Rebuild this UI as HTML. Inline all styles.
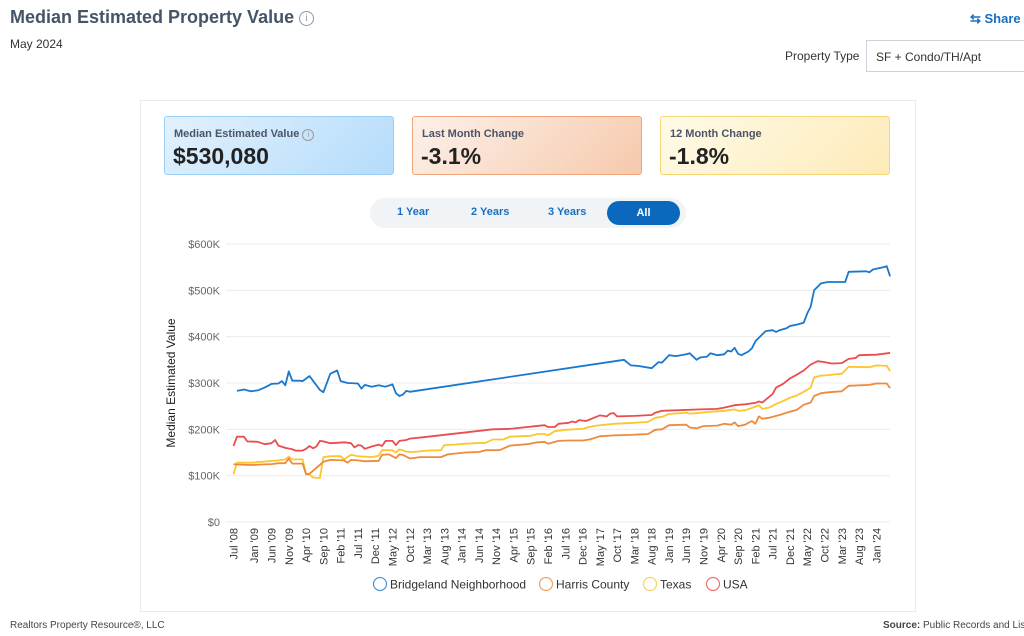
<!DOCTYPE html>
<html><head><meta charset="utf-8"><style>
body{margin:0;width:1024px;height:636px;background:#fff;font-family:"Liberation Sans",sans-serif;position:relative;overflow:hidden;color:#333}
.abs{position:absolute}
.card{position:absolute;top:116px;width:230px;height:59px;border-radius:3px;box-sizing:border-box}
.card .l{position:absolute;left:9px;top:11px;font-size:11px;font-weight:bold;color:#4a5568}
.card .v{position:absolute;left:8px;top:26px;font-size:23px;font-weight:bold;color:#222}
.tog{position:absolute;top:206px;font-size:11px;color:#1a6fc0;font-weight:bold}
</style></head><body>
<div class="abs" style="left:10px;top:7px;font-size:18px;font-weight:bold;color:#455468">Median Estimated Property Value <span style="display:inline-block;width:13px;height:13px;border:1px solid #8a97a8;border-radius:50%;font-size:10px;text-align:center;line-height:13px;color:#8a97a8;font-weight:normal;vertical-align:2px">i</span></div>
<div class="abs" style="left:10px;top:37px;font-size:12px;color:#333">May 2024</div>
<div class="abs" style="left:970px;top:11px;font-size:13px;color:#1a6fc0;font-weight:bold">⇆ Share</div>
<div class="abs" style="left:785px;top:49px;font-size:12px;color:#333">Property Type</div>
<div class="abs" style="left:866px;top:40px;width:170px;height:32px;border:1px solid #ccd3da;box-sizing:border-box;font-size:12px;padding:9px 0 0 9px;color:#333">SF + Condo/TH/Apt</div>
<div class="abs" style="left:140px;top:100px;width:776px;height:512px;border:1px solid #e6ecf1;box-sizing:border-box"></div>
<div class="card" style="left:164px;border:1px solid #9ccff5;background:linear-gradient(135deg,#e3f1fd,#b4dcfb)"><div class="l">Median Estimated Value <span style="display:inline-block;width:10px;height:10px;border:1px solid #999;border-radius:50%;font-size:8px;text-align:center;line-height:10px;color:#999;font-weight:normal">i</span></div><div class="v">$530,080</div></div>
<div class="card" style="left:412px;border:1px solid #f0a57a;background:linear-gradient(135deg,#fdf1ea,#f6c9ac)"><div class="l">Last Month Change</div><div class="v">-3.1%</div></div>
<div class="card" style="left:660px;border:1px solid #f7d774;background:linear-gradient(135deg,#fffbe9,#fdeab8)"><div class="l">12 Month Change</div><div class="v">-1.8%</div></div>
<div class="abs" style="left:370px;top:198px;width:316px;height:30px;border-radius:15px;background:#f1f4f7"></div>
<div class="tog" style="left:397px">1 Year</div>
<div class="tog" style="left:471px">2 Years</div>
<div class="tog" style="left:548px">3 Years</div>
<div class="abs" style="left:607px;top:201px;width:73px;height:24px;border-radius:12px;background:#0b68bd;color:#fff;font-size:11px;font-weight:bold;text-align:center;line-height:24px">All</div>
<svg id="chart" class="abs" style="left:0;top:0" width="1024" height="636"></svg>
<div class="abs" style="left:10px;top:620px;font-size:10px;color:#444">Realtors Property Resource®, LLC</div>
<div class="abs" style="left:883px;top:620px;font-size:10px;color:#444;white-space:nowrap"><b>Source:</b> Public Records and Listings</div>
<script>
const tickLabels=["Jul '08","Jan '09","Jun '09","Nov '09","Apr '10","Sep '10","Feb '11","Jul '11","Dec '11","May '12","Oct '12","Mar '13","Aug '13","Jan '14","Jun '14","Nov '14","Apr '15","Sep '15","Feb '16","Jul '16","Dec '16","May '17","Oct '17","Mar '18","Aug '18","Jan '19","Jun '19","Nov '19","Apr '20","Sep '20","Feb '21","Jul '21","Dec '21","May '22","Oct '22","Mar '23","Aug '23","Jan '24"];
const tickMonths=[0,6,11,16,21,26,31,36,41,46,51,56,61,66,71,76,81,86,91,96,101,106,111,116,121,126,131,136,141,146,151,156,161,166,171,176,181,186];
const yTicks=[0,100,200,300,400,500,600];
const seriesNames=["Bridgeland Neighborhood","Harris County","Texas","USA"];
const seriesColors=["#1a78cc","#ee8a3c","#fcc62d","#ea4d4d"];
const blueMonths=[1,3,5,7,9,11,13,14,15,16,17,19,20,22,25,26,28,30,31,33,36,37,38,40,42,44,46,47,48,49,50,51,113,115,117,121,123,124,126,128,131,132,134,135,137,138,140,142,143,144,145,146,147,149,150,151,153,154,156,157,158,160,161,163,165,166,167,168,170,172,177,178,183,184,185,188,189,190];
const blueValues=[283,286,282,284,290,298,299,304,295,325,305,305,304,315,285,280,320,327,304,300,299,288,296,292,295,292,297,278,272,275,283,281,350,338,337,332,345,344,360,358,362,364,350,355,357,364,360,362,370,368,376,363,360,368,375,390,405,412,414,410,414,418,423,426,430,450,465,500,515,518,518,540,541,539,545,550,552,530];
const orangeMonths=[0,1,5,8,11,13,15,16,17,20,21,22,26,28,32,33,34,36,38,42,43,45,47,48,49,51,54,60,62,67,71,73,77,80,85,88,90,91,94,97,101,103,106,110,115,120,122,124,126,131,132,134,136,140,142,144,145,146,148,150,151,152,153,155,158,161,163,165,167,168,170,172,176,178,184,186,189,190];
const orangeValues=[125,124,123,124,125,127,127,137,126,126,103,104,130,134,133,128,134,133,131,132,145,146,138,146,145,137,140,140,146,150,151,155,155,165,168,172,173,169,175,176,176,178,185,187,188,190,199,200,209,210,204,202,207,208,212,210,215,207,210,218,212,228,223,225,231,238,242,253,258,272,278,280,282,294,296,299,299,289];
const yellowMonths=[0,1,5,10,13,15,16,17,20,21,22,23,25,26,28,31,32,34,36,38,40,42,43,46,47,48,50,52,56,60,61,64,67,73,75,78,80,86,88,90,91,93,96,101,103,105,110,116,120,122,124,126,131,132,134,138,142,145,146,148,150,152,153,155,157,159,161,163,165,167,168,170,172,176,178,184,186,189,190];
const yellowValues=[103,128,128,131,133,135,141,135,135,104,102,96,95,140,142,142,135,145,142,141,140,143,155,155,150,157,152,151,154,155,166,167,169,171,178,178,184,186,190,190,187,196,199,201,205,208,212,214,216,225,227,233,236,234,235,238,240,243,240,241,246,252,244,247,255,261,268,273,281,290,312,316,317,320,335,334,338,337,326];
const redMonths=[0,1,3,4,7,9,11,12,13,15,17,18,20,21,22,23,24,25,26,28,30,32,34,35,36,37,38,40,42,43,44,46,47,48,50,51,55,75,80,90,91,93,94,97,98,99,100,102,104,106,108,109,110,111,116,121,122,124,128,135,140,142,145,148,151,152,153,154,156,157,159,161,163,165,167,169,171,173,176,178,180,181,186,190];
const redValues=[164,184,184,174,173,168,170,177,165,160,157,154,154,158,164,159,163,175,174,170,171,172,170,161,166,165,158,163,167,164,175,175,166,175,177,180,183,200,201,209,205,205,212,214,217,215,220,218,224,230,228,234,235,228,229,231,236,240,241,243,244,247,252,254,257,260,258,264,276,290,298,310,318,327,340,347,345,342,343,352,354,360,361,365];
const NS="http://www.w3.org/2000/svg";
const svg=document.getElementById('chart');
const X=m=>233.5+3.456*m;
const Y=v=>522-v*278/600;
function mk(t,a){const e=document.createElementNS(NS,t);for(const k in a)e.setAttribute(k,a[k]);svg.appendChild(e);return e;}
yTicks.forEach(v=>{
  const g=mk('line',{x1:226,x2:890,y1:Y(v),y2:Y(v),stroke:'#ececec','stroke-width':1});
  
  
  const t=mk('text',{x:220,y:Y(v)+4,'text-anchor':'end','font-size':11,fill:'#666','font-family':'Liberation Sans, sans-serif'});
  t.textContent=v===0?'$0':'$'+v+'K';
  
  
});
const yt=mk('text',{x:0,y:0,transform:'translate(175,383) rotate(-90)','text-anchor':'middle','font-size':12,fill:'#222','font-family':'Liberation Sans, sans-serif'});
yt.textContent='Median Estimated Value';


tickLabels.forEach((l,i)=>{
  const x=X(tickMonths[i])+4;
  const t=mk('text',{x:0,y:0,transform:`translate(${x},528) rotate(-90)`,'text-anchor':'end','font-size':11,fill:'#333','font-family':'Liberation Sans, sans-serif'});
  t.textContent=l;
  
  
});
const data=[[blueMonths,blueValues],[orangeMonths,orangeValues],[yellowMonths,yellowValues],[redMonths,redValues]];
const order=[3,2,1,0];
order.forEach(i=>{
  const [ms,vs]=data[i];
  const p=mk('polyline',{points:ms.map((m,j)=>X(m).toFixed(1)+','+Y(vs[j]).toFixed(1)).join(' '),fill:'none',stroke:seriesColors[i],'stroke-width':1.8,'stroke-linejoin':'round'});
  
  
});
const legX=[373,539,643,706];
seriesNames.forEach((n,i)=>{
  const c=mk('circle',{cx:legX[i]+7,cy:584,r:6.5,fill:'none',stroke:seriesColors[i],'stroke-width':1.2,opacity:0.8});
  
  
  const t=mk('text',{x:legX[i]+17,y:588.5,'font-size':12,fill:'#333','font-family':'Liberation Sans, sans-serif'});
  t.textContent=n;
  
  
});
</script>
</body></html>
